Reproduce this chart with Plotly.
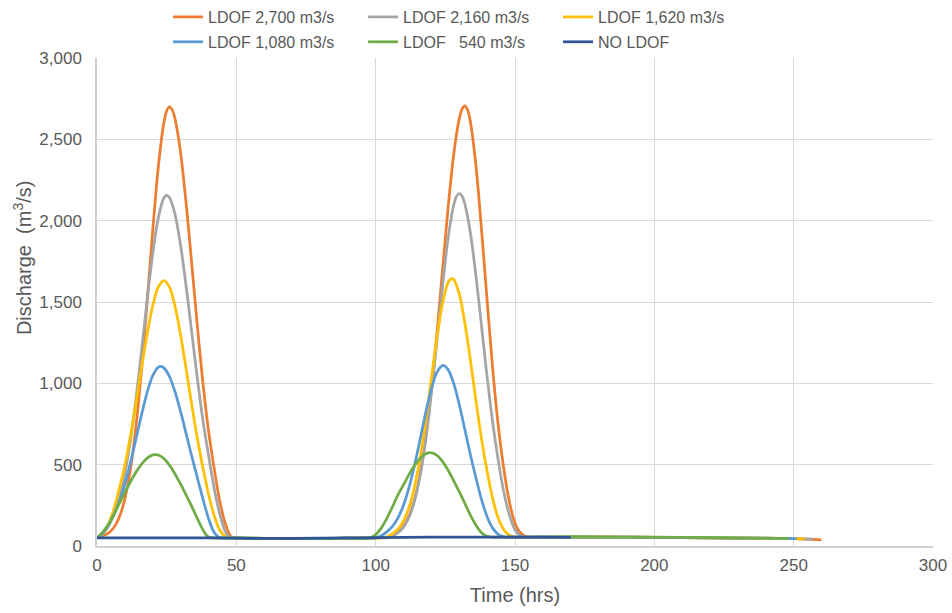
import plotly.graph_objects as go

# ---------------- data ----------------
t_2700 = [0, 2, 4, 6, 8, 10, 12, 14, 16, 18, 20, 22, 24, 25, 26, 27, 28, 30, 32, 34, 36, 38, 40, 42, 44, 46, 48, 50,
          60, 70, 80, 90, 100,
          104, 106, 108, 110, 112, 114, 116, 118, 120, 122, 124, 126, 128, 130, 131, 132, 133, 134, 136, 138, 140,
          142, 144, 146, 148, 150, 152, 154, 156,
          170, 190, 210, 230, 250, 260]
q_2700 = [50, 62, 78, 112, 177, 290, 471, 736, 1087, 1504, 1940, 2331, 2602, 2675, 2700, 2681, 2626, 2417, 2104,
          1735, 1354, 1005, 711, 482, 280, 140, 60, 50,
          47, 46, 47, 48, 49,
          52, 62, 87, 123, 186, 289, 446, 669, 960, 1312, 1699, 2081, 2407, 2627, 2685, 2705, 2680, 2607, 2336,
          1943, 1508, 1088, 738, 472, 270, 140, 80, 58, 55,
          55, 54, 52, 49, 45, 38]

t_2160 = [0, 2, 4, 6, 8, 10, 12, 14, 16, 18, 20, 22, 24, 25, 26, 28, 30, 32, 34, 36, 38, 40, 42, 44, 46, 47.5, 50,
          60, 70, 80, 90, 100,
          104, 106, 108, 110, 112, 114, 116, 118, 120, 122, 124, 126, 128, 129, 130, 131, 132, 134, 136, 138, 140,
          142, 144, 146, 148, 150, 152, 154,
          170, 190, 210, 230, 250, 257]
q_2160 = [50, 75, 120, 194, 295, 445, 649, 906, 1202, 1513, 1798, 2018, 2139, 2155, 2142, 2039, 1847, 1595, 1313,
          1031, 774, 559, 360, 200, 90, 55, 50,
          47, 46, 47, 48, 49,
          55, 64, 82, 116, 178, 281, 438, 658, 941, 1266, 1599, 1893, 2095, 2149, 2167, 2151, 2103, 1924, 1659,
          1350, 1038, 757, 525, 330, 190, 100, 62, 55,
          55, 54, 52, 49, 45, 42]

t_1620 = [0, 2, 4, 6, 8, 10, 12, 14, 16, 18, 20, 22, 24, 26, 28, 30, 32, 34, 36, 38, 40, 42, 44, 46, 47, 50,
          60, 70, 80, 90, 100,
          104, 106, 108, 110, 112, 114, 116, 118, 120, 122, 124, 126, 127.3, 128, 130, 132, 134, 136, 138, 140,
          142, 144, 146, 148, 150,
          170, 190, 210, 230, 250, 254]
q_1620 = [50, 70, 130, 225, 353, 496, 674, 879, 1097, 1304, 1477, 1592, 1632, 1591, 1474, 1297, 1086, 868, 661,
          483, 320, 190, 100, 58, 52, 50,
          47, 46, 47, 48, 49,
          55, 75, 103, 154, 238, 367, 547, 773, 1030, 1283, 1493, 1620, 1644, 1638, 1549, 1373, 1142, 892, 657,
          459, 290, 170, 100, 66, 55,
          55, 54, 52, 49, 45, 44]

t_1080 = [0, 2, 4, 6, 8, 10, 12, 14, 16, 18, 20, 22, 22.8, 24, 26, 28, 30, 32, 34, 36, 38, 40, 42, 44, 50,
          60, 70, 80, 90, 100,
          102, 104, 106, 108, 110, 112, 114, 116, 118, 120, 122, 124.2, 126, 128, 130, 132, 134, 136, 138, 140,
          142, 144, 146, 148,
          170, 190, 210, 230, 251]
q_1080 = [50, 75, 125, 193, 273, 380, 511, 659, 809, 945, 1047, 1099, 1104, 1095, 1042, 948, 826, 689, 552, 420,
          290, 170, 85, 52, 50,
          47, 46, 47, 48, 50,
          63, 87, 120, 173, 252, 362, 501, 660, 823, 967, 1069, 1110, 1084, 1000, 870, 717, 560, 417, 285, 180,
          110, 72, 57, 55,
          55, 54, 52, 49, 46]

t_540 = [0, 2, 4, 6, 8, 10, 12, 14, 16, 18, 20, 21, 22, 24, 26, 28, 30, 32, 34, 36, 38, 40, 50,
         60, 70, 80, 90, 98,
         100, 102, 104, 106, 108, 110, 112, 114, 116, 118, 119.6, 122, 124, 126, 128, 130, 132, 134, 136, 138,
         140, 142,
         170, 190, 210, 230, 248]
q_540 = [50, 85, 130, 190, 260, 330, 395, 455, 504, 540, 560, 562, 559, 538, 497, 443, 380, 313, 243, 170, 100,
         55, 50,
         47, 46, 47, 48, 50,
         70, 110, 170, 240, 314, 377, 440, 496, 540, 567, 574, 557, 519, 466, 401, 334, 262, 190, 128, 82,
         60, 55,
         57, 55, 53, 50, 47]

t_none = [0, 20, 40, 50, 60, 80, 100, 120, 140, 160, 170]
q_none = [50, 50, 50, 48, 47, 48, 51, 54, 55, 54, 53]

names = ["LDOF 2,700 m3/s", "LDOF 2,160 m3/s", "LDOF 1,620 m3/s",
         "LDOF 1,080 m3/s", "LDOF   540 m3/s", "NO LDOF"]
colors = ["#ED7D31", "#A5A5A5", "#FFC000", "#5B9BD5", "#70AD47", "#2F5597"]
times = [t_2700, t_2160, t_1620, t_1080, t_540, t_none]
flows = [q_2700, q_2160, q_1620, q_1080, q_540, q_none]
legend_ids = ["legend", "legend", "legend", "legend2", "legend2", "legend2"]

x_ticks = [0, 50, 100, 150, 200, 250, 300]
y_ticks = [0, 500, 1000, 1500, 2000, 2500, 3000]

FONT = "Liberation Sans, Arial, sans-serif"
TXT = "#595959"

fig = go.Figure()
for name, t, q, col, lg in zip(names, times, flows, colors, legend_ids):
    fig.add_trace(go.Scatter(
        x=t, y=q, name=name.replace(" ", "\u00a0"), mode="lines",
        line=dict(color=col, width=2.75, shape="spline", smoothing=0.8),
        legend=lg, hoverinfo="x+y+name",
    ))

legend_common = dict(
    orientation="h", xanchor="left", yanchor="middle",
    font=dict(family=FONT, size=16, color=TXT),
    bgcolor="rgba(0,0,0,0)", entrywidth=150, entrywidthmode="pixels",
    itemwidth=30, tracegroupgap=0,
)

fig.update_layout(
    width=952, height=613,
    margin=dict(l=97, r=19, t=58, b=67, autoexpand=False),
    paper_bgcolor="white", plot_bgcolor="white",
    font=dict(family=FONT, color=TXT),
    legend=dict(x=0.085, y=1.084, **legend_common),
    legend2=dict(x=0.085, y=1.033, **legend_common),
    xaxis=dict(
        range=[0, 300], tickvals=x_ticks, ticktext=[str(v) for v in x_ticks],
        showgrid=True, gridcolor="#D9D9D9", gridwidth=1,
        showline=True, linecolor="#D0D0D0", linewidth=1.5,
        zeroline=False, ticks="", ticklabelstandoff=3,
        tickfont=dict(family=FONT, size=17, color=TXT),
        title=dict(text="Time (hrs)", font=dict(family=FONT, size=20, color=TXT), standoff=14),
    ),
    yaxis=dict(
        range=[0, 3000], tickvals=y_ticks, ticktext=[f"{v:,}" for v in y_ticks],
        showgrid=True, gridcolor="#D9D9D9", gridwidth=1,
        showline=True, linecolor="#D0D0D0", linewidth=1.5,
        zeroline=False, ticks="", ticklabelstandoff=10,
        tickfont=dict(family=FONT, size=17, color=TXT),
    ),
    annotations=[dict(
        text="Discharge  (m<sup>3</sup>/s)", textangle=-90,
        xref="paper", yref="paper", x=-0.0897, y=0.59,
        xanchor="center", yanchor="middle", showarrow=False,
        font=dict(family=FONT, size=20, color=TXT),
    )],
    showlegend=True,
)

fig.write_html("out.html")
